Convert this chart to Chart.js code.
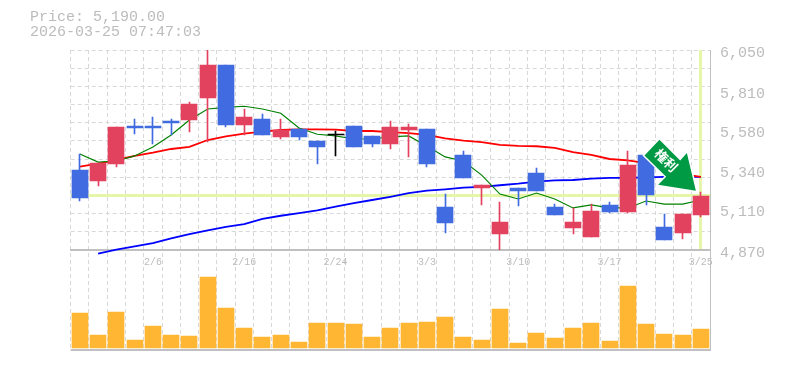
<!DOCTYPE html>
<html>
<head>
<meta charset="utf-8">
<script src="https://cdn.jsdelivr.net/npm/chart.js@4"></script>
<style>
html,body{margin:0;padding:0;background:#fff}
canvas{display:block}
</style>
</head>
<body>
<canvas id="c" width="785" height="370"></canvas>
<script>
const dates=['2/2','2/3','2/4','2/5','2/6','2/9','2/10','2/12','2/13','2/16','2/17','2/18','2/19','2/20','2/24','2/25','2/26','2/27','3/2','3/3','3/4','3/5','3/6','3/9','3/10','3/11','3/12','3/13','3/16','3/17','3/18','3/19','3/23','3/24','3/25'];
const labelledDates=['2/6','2/16','2/24','3/3','3/10','3/17','3/25'];
const opens=[5342,5277,5377,5602,5602,5631,5637,5767,5961,5607,5643,5537,5584,5513,5553,5602,5543,5495,5578,5584,5124,5431,5236,4964,5236,5324,5124,5000,4947,5136,5094,5431,5006,4970,5077];
const closes=[5179,5385,5596,5590,5590,5619,5731,5961,5607,5655,5549,5578,5537,5478,5553,5478,5495,5596,5596,5377,5029,5295,5253,5035,5218,5218,5077,5035,5100,5094,5371,5195,4929,5082,5190];
const highs=[5436,5385,5596,5643,5655,5643,5743,6050,5961,5702,5672,5643,5584,5513,5572,5602,5543,5631,5613,5584,5200,5454,5253,5153,5236,5354,5141,5118,5141,5153,5454,5431,5082,5082,5212];
const lows=[5161,5248,5362,5554,5495,5550,5566,5509,5596,5550,5549,5525,5519,5377,5425,5478,5478,5466,5419,5360,4970,5295,5136,4866,5130,5218,5077,4964,4947,5088,5088,5136,4929,4935,5065];
const maShort=[5436,5389,5395,5425,5478,5549,5637,5702,5712,5718,5702,5677,5590,5553,5543,5525,5525,5537,5543,5484,5419,5395,5312,5200,5171,5206,5171,5118,5136,5118,5118,5159,5141,5141,5165];
const maMid=[5362,5380,5401,5425,5444,5466,5479,5519,5541,5556,5568,5578,5582,5582,5580,5572,5572,5566,5559,5549,5529,5515,5507,5490,5484,5482,5472,5448,5431,5407,5399,5383,5342,5318,5301];
const maLong=[null,4848,4872,4892,4910,4939,4964,4986,5006,5023,5053,5072,5088,5104,5126,5146,5165,5184,5205,5220,5228,5238,5243,5252,5261,5273,5281,5283,5291,5295,5295,5299,5301,5301,5301];
const volumes=[35,13,36,8,22,13,12,71,40,20,11,13,6,25,25,24,11,20,25,26,31,11,8,39,5,15,10,20,25,7,62,24,14,13,19];
const priceLabels=[6050,5810,5580,5340,5110,4870];
const priceMin=4870, priceMax=6050, gridDivisions=11;
const currentPrice=5190;
const titleLines=['Price: 5,190.00','2026-03-25 07:47:03'];
const arrowText='権利';

const RED='#e3425f', BLUE='#416be0', BLACK='#000000', VOL='#ffb733', GRID='#d8d8d8', AXIS='#c0c0c0', TEXT='#bcbcbc', MARK='#e6f6a9', ARROW='#009944';
const MONO='"Liberation Mono", monospace';
const candleColor=closes.map((c,i)=>c>opens[i]?RED:(c<opens[i]?BLUE:BLACK));
const gridValues=Array.from({length:gridDivisions+1},(_,i)=>priceMin+i*(priceMax-priceMin)/gridDivisions);

const crisp={id:'crisp',beforeDatasetsDraw(chart){
  chart.data.datasets.forEach((ds,i)=>{
    if(ds.type!=='bar')return;
    chart.getDatasetMeta(i).data.forEach(el=>{
      el.x=ds.barThickness%2?Math.floor(el.x)+0.5:Math.round(el.x);
      el.y=Math.round(el.y);el.base=Math.round(el.base);
      if(el.y===el.base)el.base+=1;
    });
  });
}};
const marker={id:'marker',beforeDatasetsDraw(chart){
  const {ctx,chartArea:a,scales:{x,y}}=chart;
  const py=y.getPixelForValue(currentPrice), px=x.getPixelForValue(dates.length-1);
  ctx.save();ctx.fillStyle=MARK;
  ctx.fillRect(a.left,Math.round(py)-2,a.right-a.left,3);
  ctx.fillRect(Math.round(px)-2,y.top,3,y.bottom-y.top-1);
  ctx.restore();
}};
const arrow={id:'arrow',afterDatasetsDraw(chart){
  const {ctx,scales:{x,y}}=chart;
  const tx=x.getPixelForValue(dates.length-1)-5, ty=y.getPixelForValue(currentPrice)-5;
  const shape=[[-36.4,-51],[-51.4,-35.3],[-29.7,-14],[-37.7,-6],[0,0],[-9,-37.7],[-15.7,-30.3]];
  ctx.save();
  ctx.beginPath();
  shape.forEach(([dx,dy],i)=>i?ctx.lineTo(tx+dx,ty+dy):ctx.moveTo(tx+dx,ty+dy));
  ctx.closePath();
  ctx.lineWidth=3;ctx.strokeStyle='#ffffff';ctx.lineJoin='miter';ctx.stroke();
  ctx.fillStyle=ARROW;ctx.fill();
  ctx.translate(tx-29.7,ty-30.5);ctx.rotate(Math.PI/4);
  ctx.fillStyle='#ffffff';ctx.font='bold 13px "Noto Sans CJK JP"';
  ctx.textAlign='center';ctx.textBaseline='middle';
  ctx.fillText(arrowText,0,0);
  ctx.restore();
}};

new Chart(document.getElementById('c'),{
  data:{labels:dates,datasets:[
    {type:'bar',yAxisID:'y',order:1,grouped:false,barThickness:16,data:opens.map((o,i)=>[o,closes[i]]),backgroundColor:candleColor},
    {type:'bar',yAxisID:'y',order:2,grouped:false,barThickness:1,data:lows.map((l,i)=>[l,highs[i]]),backgroundColor:candleColor},
    {type:'line',yAxisID:'y',order:3,data:maShort,borderColor:'#008000',borderWidth:1.2,pointRadius:0,tension:0},
    {type:'line',yAxisID:'y',order:4,data:maMid,borderColor:'#ff0000',borderWidth:1.8,pointRadius:0,tension:0},
    {type:'line',yAxisID:'y',order:5,clip:false,data:maLong,borderColor:'#0000ff',borderWidth:1.8,pointRadius:0,tension:0},
    {type:'bar',yAxisID:'yVol',order:6,grouped:false,barThickness:16,data:volumes,backgroundColor:VOL}
  ]},
  plugins:[marker,crisp,arrow],
  options:{
    responsive:false,animation:false,events:[],
    layout:{padding:{left:30,right:0,top:0,bottom:20}},
    plugins:{
      legend:{display:false},tooltip:{enabled:false},
      title:{display:true,text:titleLines,align:'start',color:TEXT,font:{family:MONO,size:15,weight:'normal',lineHeight:1},padding:{top:10,bottom:10}}
    },
    scales:{
      x:{type:'category',offset:true,position:{y:priceMin},
        grid:{offset:true,color:GRID,drawTicks:false,lineWidth:1},
        border:{display:true,color:AXIS,width:2,dash:[4,3]},
        ticks:{autoSkip:false,maxRotation:0,minRotation:0,padding:6,color:TEXT,font:{family:MONO,size:10},
          callback(v){const d=dates[v];return labelledDates.includes(d)?d:'';}}
      },
      y:{type:'linear',position:'right',stack:'panels',stackWeight:2,min:priceMin,max:priceMax,
        afterBuildTicks(s){s.ticks=[...new Set([...gridValues,...priceLabels])].sort((a,b)=>a-b).map(value=>({value}));},
        afterFit(s){s.width=75;},
        grid:{drawTicks:false,lineWidth:1,color(c){return c.tick&&gridValues.includes(c.tick.value)?GRID:'rgba(0,0,0,0)';}},
        border:{display:true,color:AXIS,width:1,dash:[4,3]},
        ticks:{autoSkip:false,padding:10,labelOffset:3,color:TEXT,font:{family:MONO,size:15},
          callback(v){return priceLabels.includes(v)?v.toLocaleString('en-US'):'';}}
      },
      yVol:{type:'linear',position:'right',stack:'panels',stackWeight:1,min:-2,max:98,
        afterBuildTicks(s){s.ticks=[{value:-2}];},
        afterFit(s){s.width=75;},
        grid:{drawTicks:false,color:AXIS,lineWidth:2},
        border:{display:true,color:AXIS,width:1},
        ticks:{display:false}
      },
      yLeft:{type:'linear',position:'left',display:true,min:0,max:1,
        afterFit(s){s.width=40.7;},
        grid:{display:false},border:{display:false},ticks:{display:false}
      }
    }
  }
});
</script>
</body>
</html>
